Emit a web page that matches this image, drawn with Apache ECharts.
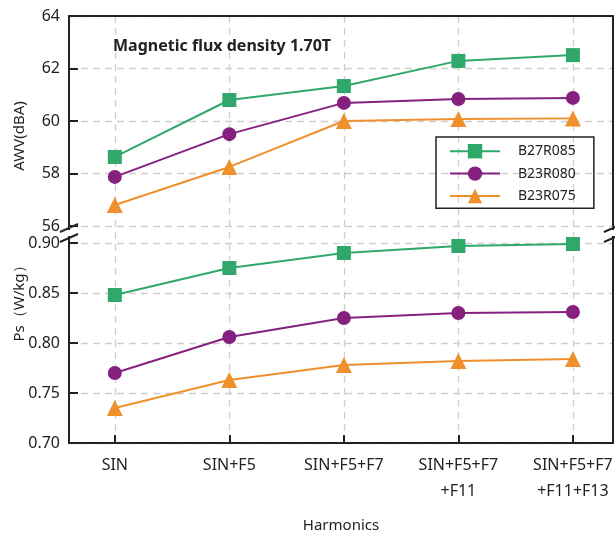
<!DOCTYPE html>
<html><head><meta charset="utf-8">
<script src="https://cdn.jsdelivr.net/npm/echarts@6/dist/echarts.min.js"></script>
<style>html,body{margin:0;padding:0;background:#fff}#c{width:615px;height:538px}</style>
</head><body><div id="c"></div>
<script>
// ---- data ----
const categories = ['SIN', 'SIN+F5', 'SIN+F5+F7', 'SIN+F5+F7\n+F11', 'SIN+F5+F7\n+F11+F13'];
const seriesNames = ['B27R085', 'B23R080', 'B23R075'];
const awvB27R085 = [58.63, 60.80, 61.33, 62.29, 62.51];
const awvB23R080 = [57.87, 59.50, 60.69, 60.84, 60.88];
const awvB23R075 = [56.80, 58.25, 60.00, 60.08, 60.10];
const psB27R085 = [0.848, 0.875, 0.890, 0.897, 0.899];
const psB23R080 = [0.770, 0.806, 0.825, 0.830, 0.831];
const psB23R075 = [0.735, 0.763, 0.778, 0.782, 0.784];
const awvRange = [56, 64];
const psRange = [0.70, 0.90];
const titleText = 'Magnetic flux density 1.70T';

// ---- styling ----
const colors = ['#2fa86a', '#86207f', '#ef902d'];
const symbols = ['rect', 'circle', 'triangle'];
const symbolSizes = [14, 14, 16];
const FONT = 'Noto Sans';
const AX = '#222';
const GRIDC = '#d0d0d0';
const catIdx = categories.map((_, i) => i);
const xMin = -0.4, xMax = 4.35;

function pts(arr) { return arr.map((v, i) => [i, v]); }

const chart = echarts.init(document.getElementById('c'), null, {renderer: 'canvas'});

const dashed = {show: true, lineStyle: {color: GRIDC, type: [7, 5], width: 1.3}};
const noAxis = {axisLine: {show: false}, axisTick: {show: false}, axisLabel: {show: false}, splitLine: {show: false}};

const awvSets = [awvB27R085, awvB23R080, awvB23R075];
const psSets = [psB27R085, psB23R080, psB23R075];
const series = [];
[awvSets, psSets].forEach((sets, g) => {
  sets.forEach((arr, k) => {
    series.push({
      name: seriesNames[k], type: 'line', xAxisIndex: g === 0 ? 0 : 2, yAxisIndex: g === 0 ? 0 : 2,
      data: pts(arr), symbol: symbols[k], symbolSize: symbolSizes[k],
      lineStyle: {width: 2, color: colors[k]}, itemStyle: {color: colors[k]},
      z: 5
    });
  });
});

function brk(x) {
  return [
    {type: 'line', shape: {x1: x, y1: 226, x2: x, y2: 230}, style: {stroke: AX, lineWidth: 2}},
    {type: 'line', shape: {x1: x, y1: 236, x2: x, y2: 243}, style: {stroke: AX, lineWidth: 2}},
    {type: 'line', shape: {x1: x - 9, y1: 232, x2: x + 9, y2: 224}, style: {stroke: AX, lineWidth: 2}},
    {type: 'line', shape: {x1: x - 9, y1: 242, x2: x + 9, y2: 234}, style: {stroke: AX, lineWidth: 2}}
  ];
}

const gridBase = {left: 69, right: 2, outerBoundsMode: 'none', containLabel: false};

const option = {
  animation: false,
  backgroundColor: '#fff',
  textStyle: {fontFamily: FONT},
  title: {text: titleText, left: 108, top: 33, textStyle: {fontFamily: FONT, fontSize: 16, fontWeight: 'bold', color: AX}},
  legend: {
    data: seriesNames, orient: 'vertical', left: 436, top: 137,
    itemWidth: 50, itemHeight: 18, itemGap: 8,
    padding: [7, 18, 5, 13], borderColor: AX, borderWidth: 1.5,
    textStyle: {fontFamily: FONT, fontSize: 14, color: AX, padding: [0, 0, 0, 13]}
  },
  grid: [
    Object.assign({top: 16, height: 210}, gridBase),
    Object.assign({top: 243, height: 200}, gridBase),
    Object.assign({top: 16, height: 427}, gridBase)
  ],
  xAxis: [
    Object.assign({type: 'value', gridIndex: 0, min: xMin, max: xMax, position: 'bottom'}, noAxis),
    {type: 'value', gridIndex: 0, min: xMin, max: xMax, position: 'top',
      axisLine: {show: true, onZero: false, lineStyle: {color: AX, width: 2}}, axisTick: {show: false}, axisLabel: {show: false}, splitLine: {show: false}},
    {type: 'value', gridIndex: 1, min: xMin, max: xMax, position: 'bottom',
      name: 'Harmonics', nameLocation: 'middle', nameGap: 75,
      nameTextStyle: {fontFamily: FONT, fontSize: 15, color: AX},
      axisLine: {show: true, onZero: false, lineStyle: {color: AX, width: 2}},
      axisTick: {show: true, inside: true, length: 8, customValues: catIdx, lineStyle: {color: AX, width: 2}},
      axisLabel: {show: true, customValues: catIdx, margin: 9, fontFamily: FONT, fontSize: 16, color: AX, lineHeight: 26,
        formatter: v => categories[Math.round(v)]},
      splitLine: {show: false}},
    {type: 'value', gridIndex: 2, min: xMin, max: xMax, position: 'bottom',
      axisLine: {show: false}, axisTick: {show: false, customValues: catIdx}, axisLabel: {show: false, customValues: catIdx},
      splitLine: dashed}
  ],
  yAxis: [
    {type: 'value', gridIndex: 0, min: awvRange[0], max: awvRange[1], interval: 2,
      name: 'AWV(dBA)', nameLocation: 'middle', nameGap: 42, nameMoveOverlap: false,
      nameTextStyle: {fontFamily: FONT, fontSize: 15, color: AX, padding: [0, 30, 0, 0]},
      axisLine: {show: true, onZero: false, lineStyle: {color: AX, width: 2}},
      axisTick: {show: true, inside: true, length: 9, lineStyle: {color: AX, width: 2}},
      axisLabel: {margin: 9, fontFamily: FONT, fontSize: 16, color: AX},
      splitLine: dashed},
    {type: 'value', gridIndex: 0, min: awvRange[0], max: awvRange[1], position: 'right',
      axisLine: {show: true, onZero: false, lineStyle: {color: AX, width: 2}}, axisTick: {show: false}, axisLabel: {show: false}, splitLine: {show: false}},
    {type: 'value', gridIndex: 1, min: psRange[0], max: psRange[1], interval: 0.05,
      name: 'Ps（W/kg）', nameLocation: 'middle', nameGap: 42, nameMoveOverlap: false,
      nameTextStyle: {fontFamily: FONT, fontSize: 15, color: AX, padding: [0, 0, 0, 86]},
      axisLine: {show: true, onZero: false, lineStyle: {color: AX, width: 2}},
      axisTick: {show: true, inside: true, length: 9, lineStyle: {color: AX, width: 2}},
      axisLabel: {margin: 9, fontFamily: FONT, fontSize: 16, color: AX, formatter: v => v.toFixed(2)},
      splitLine: dashed},
    {type: 'value', gridIndex: 1, min: psRange[0], max: psRange[1], position: 'right',
      axisLine: {show: true, onZero: false, lineStyle: {color: AX, width: 2}}, axisTick: {show: false}, axisLabel: {show: false}, splitLine: {show: false}},
    Object.assign({type: 'value', gridIndex: 2, min: 0, max: 1}, noAxis)
  ],
  graphic: brk(69).concat(brk(613)),
  series: series
};
chart.setOption(option);
</script></body></html>
